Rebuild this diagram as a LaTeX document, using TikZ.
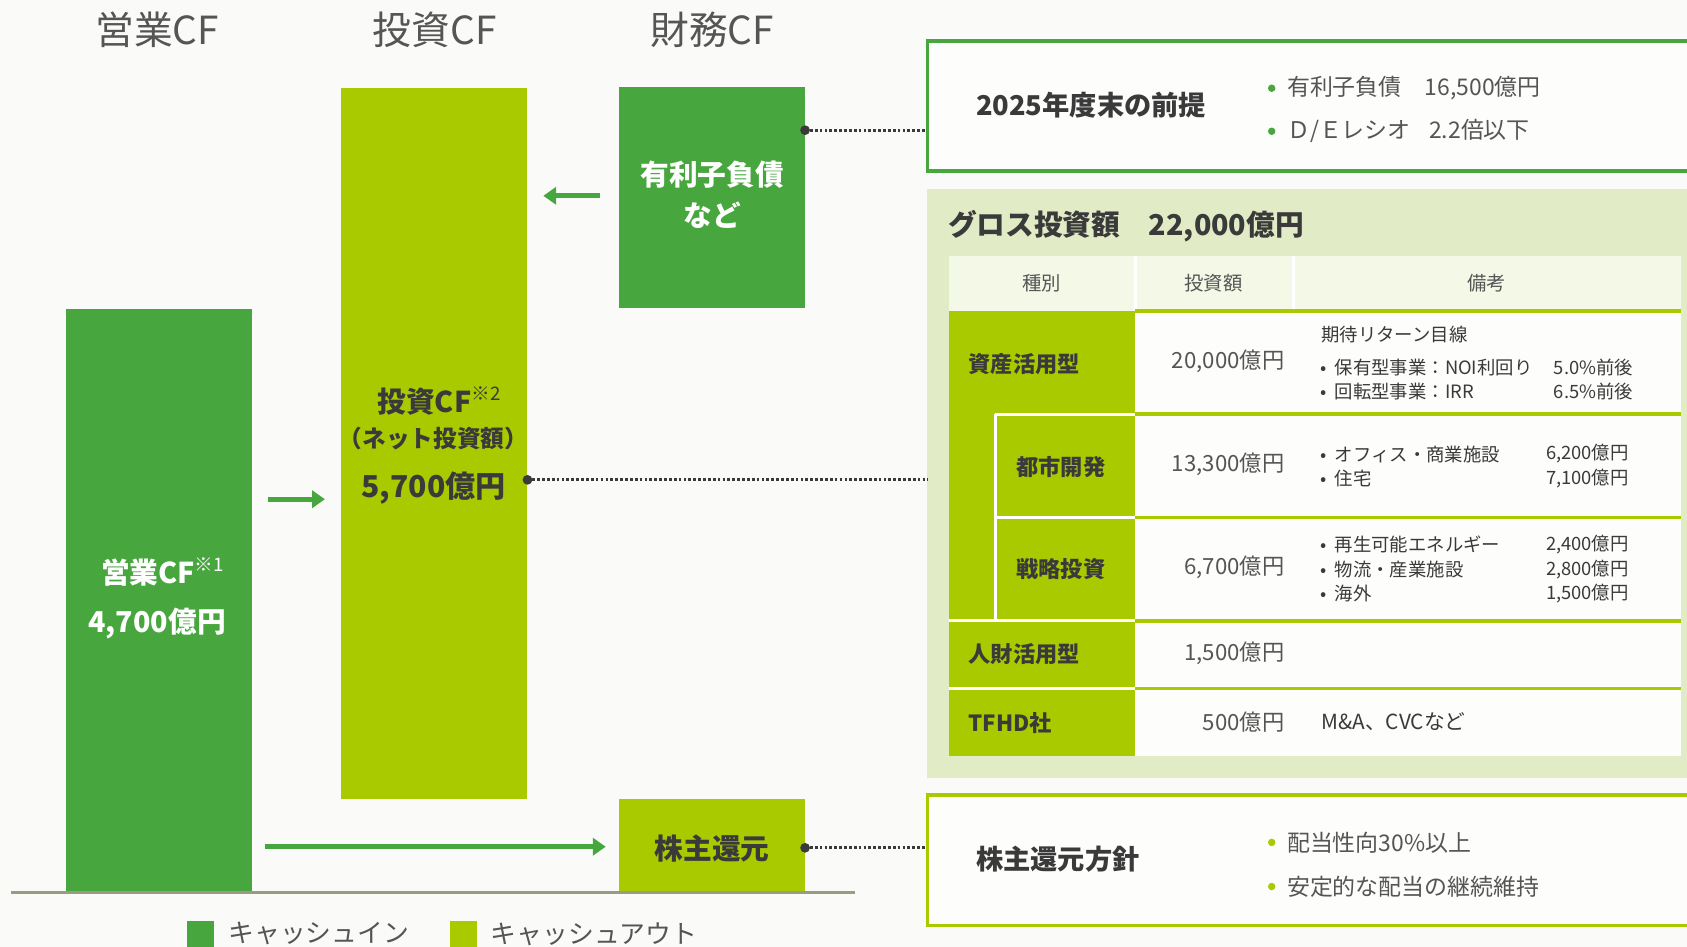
\documentclass[tikz,border=0pt]{standalone}
\usepackage{fontspec}
\setmainfont{Noto Sans CJK JP}
\usetikzlibrary{arrows.meta}
\definecolor{cgreen}{HTML}{48A63F}
\definecolor{cyel}{HTML}{AACA00}
\definecolor{cpanel}{HTML}{E1EBC6}
\definecolor{chdr}{HTML}{F4F9E7}
\definecolor{cbg}{HTML}{FAFAF8}
\definecolor{cwhite}{HTML}{FDFDFB}
\definecolor{cdark}{HTML}{3A3A3A}
\definecolor{cgray}{HTML}{555555}
\definecolor{cbase}{HTML}{9B9B84}
\newcommand\supnote[1]{\raisebox{0.42em}{\mdseries\fontsize{13}{13}\selectfont #1}}
\newcommand\bulpt{•\hspace{0.45em}}
\tikzset{
  hdr/.style={font=\fontsize{27}{31}\selectfont, text=cgray, inner sep=0},
  bar/.style={inner sep=0, minimum width=129.75pt},
  btxt/.style={font=\bfseries\fontsize{20}{24}\selectfont, inner sep=0},
  flow/.style={draw=cgreen, line width=3.6pt, -{Triangle[length=9pt,width=12pt]}},
  dotline/.style={draw=cdark, line width=2.1pt, dash pattern=on 1.9pt off 1.5pt},
  endpt/.style={fill=cdark},
  ttl/.style={font=\bfseries\fontsize{19}{23}\selectfont, text=cdark, inner sep=0, anchor=west},
  bul/.style={font=\fontsize{16}{20}\selectfont, text=cgray, inner sep=0, anchor=west},
  th/.style={font=\fontsize{13.5}{16}\selectfont, text=cgray, inner sep=0},
  tl/.style={font=\bfseries\fontsize{15.5}{18}\selectfont, text=cdark, inner sep=0},
  amt/.style={font=\fontsize{15.5}{18}\selectfont, text=cgray, inner sep=0, anchor=east},
  rm/.style={font=\fontsize{12.8}{15}\selectfont, text=cdark, inner sep=0},
  leg/.style={font=\fontsize{18}{22}\selectfont, text=cgray, inner sep=0, anchor=west},
  wsep/.style={draw=white, line width=2.2pt},
  ysep/.style={draw=cyel, line width=2.4pt},
}
\begin{document}
\begin{tikzpicture}[x=0.75pt,y=-0.75pt]
\useasboundingbox (0,0) rectangle (1568,880);
\clip (0,0) rectangle (1568,880);
\fill[cbg] (0,0) rectangle (1568,880);

% headers
\node[hdr] (h1) at (146,28) {営業CF};
\node[hdr] (h2) at (404,28) {投資CF};
\node[hdr] (h3) at (662,28) {財務CF};

% bars
\node[bar, fill=cgreen, minimum height=406.5pt] (op) at (147.5,558) {};
\node[bar, fill=cyel, minimum height=495.75pt] (inv) at (403.5,412.5) {};
\node[bar, fill=cgreen, minimum height=153.75pt] (debt) at (661.5,183.5) {};
\node[bar, fill=cyel, minimum height=64.5pt] (ret) at (661.5,786) {};

% baseline
\coordinate (bl1) at (10,829.5);
\coordinate (bl2) at (795,829.5);
\draw[cbase, line width=2.4pt] (bl1) -- (bl2);

% bar texts
\node[btxt, text=white] (opt1) at (151,532) {営業CF\supnote{※1}};
\node[btxt, text=white] (opt2) at (146,580) {4,700億円};
\node[btxt, text=cdark] (invt1) at (408,373) {投資CF\supnote{※2}};
\node[btxt, text=cdark, font=\bfseries\fontsize{16.5}{19}\selectfont] (invt2) at (403,408) {（ネット投資額）};
\node[btxt, text=cdark, font=\bfseries\fontsize{21}{24}\selectfont] (invt3) at (403,454) {5,700億円};
\node[btxt, text=white] (dt1) at (662,162) {有利子負債};
\node[btxt, text=white] (dt2) at (662,200) {など};
\node[btxt, text=cdark] (rt) at (662,789) {株主還元};

% flow arrows
\coordinate (a1s) at (558,182); \coordinate (a1e) at (505,182);
\coordinate (a2s) at (249,464); \coordinate (a2e) at (302,464);
\coordinate (a3s) at (246,787); \coordinate (a3e) at (563,787);
\draw[flow] (a1s) -- (a1e);
\draw[flow] (a2s) -- (a2e);
\draw[flow] (a3s) -- (a3e);

% right panels
\node[draw=cgreen, line width=2.4pt, fill=cwhite, inner sep=0, minimum width=537pt, minimum height=90.75pt] (pre) at (1220,98.5) {};
\fill[cpanel] (862,176) rectangle (1580,723);
\node[inner sep=0, minimum width=538pt, minimum height=410pt] (gross) at (1221,449.5) {};
\node[draw=cyel, line width=2.4pt, fill=cwhite, inner sep=0, minimum width=537pt, minimum height=90.75pt] (pol) at (1220,799.5) {};

% dotted connectors
\coordinate (d1) at (debt.east |- 0,121);
\coordinate (d2) at (inv.east |- 0,446);
\coordinate (d3) at (ret.east |- 0,788);
\draw[dotline] (d1) -- (pre.west |- d1);
\draw[dotline] (d2) -- (gross.west |- d2);
\draw[dotline] (d3) -- (pol.west |- d3);
\fill[endpt] (d1) circle (3.4pt);
\fill[endpt] (d2) circle (3.4pt);
\fill[endpt] (d3) circle (3.4pt);

% 2025 box text
\node[ttl] (pret) at (907,98) {2025年度末の前提};
\fill[cgreen] (1182,82) circle (2.6pt);
\fill[cgreen] (1182,122) circle (2.6pt);
\node[bul] (pb1) at (1196,82) {有利子負債　16,500億円};
\node[bul] (pb2) at (1196,122) {Ｄ/Ｅレシオ\hspace{0.8em}2.2倍以下};

% gross panel
\node[ttl, font=\bfseries\fontsize{20}{24}\selectfont] (grt) at (881,210) {グロス投資額　22,000億円};
\fill[chdr] (882,238) rectangle (1562,289);
\draw[wsep] (1055,238) -- (1055,289);
\draw[wsep] (1202,238) -- (1202,289);
\node[th] (th1) at (968,263) {種別};
\node[th] (th2) at (1128,263) {投資額};
\node[th] (th3) at (1382,263) {備考};
\fill[cyel] (882,289) rectangle (1055,703);
\fill[cwhite] (1055,289) rectangle (1562,703);
\foreach \yy in {289,385,481,577,640} \draw[ysep] (1055,\yy) -- (1562,\yy);
\draw[wsep] (882,577) -- (1055,577);
\draw[wsep] (882,640) -- (1055,640);
\draw[wsep] (925,385) -- (1055,385);
\draw[wsep] (925,481) -- (1055,481);
\draw[wsep] (925,385) -- (925,577);

\node[tl, anchor=west] (r1) at (900,338) {資産活用型};
\node[tl] (r2) at (986,434) {都市開発};
\node[tl] (r3) at (986,529) {戦略投資};
\node[tl, anchor=west] (r4) at (900,608) {人財活用型};
\node[tl, anchor=west] (r5) at (900,672) {TFHD社};

\node[amt] (m1) at (1194,336) {20,000億円};
\node[amt] (m2) at (1194,432) {13,300億円};
\node[amt] (m3) at (1194,527) {6,700億円};
\node[amt] (m4) at (1194,607) {1,500億円};
\node[amt] (m5) at (1194,671) {500億円};

\node[rm, anchor=west] (k0) at (1228,311) {期待リターン目線};
\node[rm, anchor=west] (k1) at (1227,342) {\bulpt 保有型事業：NOI利回り};
\node[rm, anchor=east] (k1v) at (1518,342) {5.0\%前後};
\node[rm, anchor=west] (k2) at (1227,364) {\bulpt 回転型事業：IRR};
\node[rm, anchor=east] (k2v) at (1518,364) {6.5\%前後};
\node[rm, anchor=west] (k3) at (1227,422) {\bulpt オフィス・商業施設};
\node[rm, anchor=east] (k3v) at (1514,422) {6,200億円};
\node[rm, anchor=west] (k4) at (1227,445) {\bulpt 住宅};
\node[rm, anchor=east] (k4v) at (1514,445) {7,100億円};
\node[rm, anchor=west] (k5) at (1227,506) {\bulpt 再生可能エネルギー};
\node[rm, anchor=east] (k5v) at (1514,506) {2,400億円};
\node[rm, anchor=west] (k6) at (1227,529) {\bulpt 物流・産業施設};
\node[rm, anchor=east] (k6v) at (1514,529) {2,800億円};
\node[rm, anchor=west] (k7) at (1227,552) {\bulpt 海外};
\node[rm, anchor=east] (k7v) at (1514,552) {1,500億円};
\node[rm, anchor=west, font=\fontsize{14.5}{17}\selectfont] (k8) at (1228,671) {M\&A、CVCなど};

% policy box text
\node[ttl] (polt) at (907,799) {株主還元方針};
\fill[cyel] (1182,783) circle (2.6pt);
\fill[cyel] (1182,824) circle (2.6pt);
\node[bul] (qb1) at (1196,783) {配当性向30\%以上};
\node[bul] (qb2) at (1196,824) {安定的な配当の継続維持};

% legend
\fill[cgreen] (174,856) rectangle (199,890);
\fill[cyel] (418,856) rectangle (443,890);
\node[leg] (l1) at (212,868) {キャッシュイン};
\node[leg] (l2) at (456,868) {キャッシュアウト};
\end{tikzpicture}
\end{document}
